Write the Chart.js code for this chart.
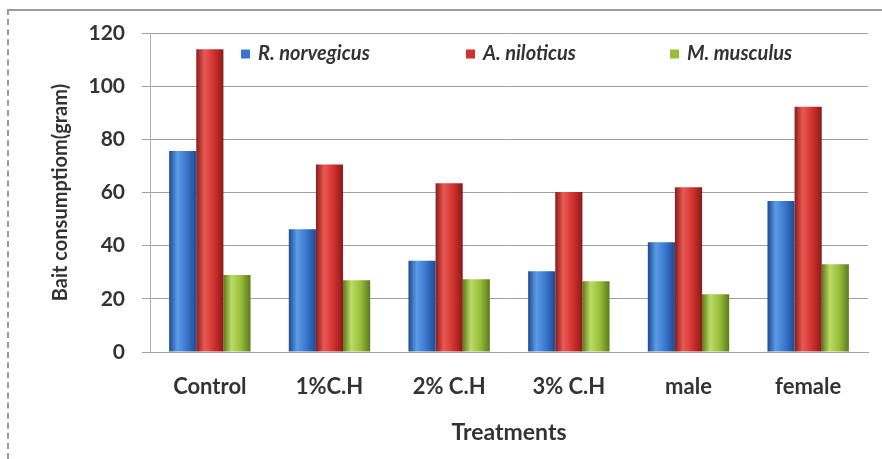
<!DOCTYPE html>
<html>
<head>
<meta charset="utf-8">
<script src="https://cdn.jsdelivr.net/npm/chart.js@4.4.1/dist/chart.umd.min.js"></script>
<style>
  html, body { margin: 0; padding: 0; background: #fff; }
  #wrap { position: relative; width: 882px; height: 459px; }
  #frame { position: absolute; left: 7px; top: 9px; right: 0; bottom: 0;
           border-top: 2px solid #9c9c9c; border-left: 2px dashed #9a9a9a; pointer-events: none; }
  canvas { position: absolute; left: 0; top: 0; }
</style>
</head>
<body>
<div id="wrap">
  <canvas id="chart" width="882" height="459"></canvas>
  <div id="frame"></div>
</div>
<script>
// Dados
const categories   = ['Control', '1%C.H', '2% C.H', '3% C.H', 'male', 'female'];
const seriesNames  = ['R. norvegicus', 'A. niloticus', 'M. musculus'];
const rNorvegicus  = [75.6, 46.2, 34.3, 30.4, 41.3, 56.8];
const aNiloticus   = [113.9, 70.5, 63.5, 60.2, 62.0, 92.3];
const mMusculus    = [29.0, 27.0, 27.4, 26.6, 21.7, 33.0];
const yMin = 0, yMax = 120, yStep = 20;

const CAT_PCT = 0.68;
const FONT = 'Lato, "Open Sans", sans-serif';

// sombreamento cilíndrico de cada barra
function shade(dark, light, mid) {
  return (c) => {
    const chart = c.chart, area = chart.chartArea;
    if (!area || !chart.scales.x) return mid;
    const catW = (area.right - area.left) / categories.length;
    const barW = catW * CAT_PCT / seriesNames.length;
    const cx = chart.scales.x.getPixelForValue(c.dataIndex) + (c.datasetIndex - 1) * barW;
    const g = chart.ctx.createLinearGradient(cx - barW / 2, 0, cx + barW / 2, 0);
    g.addColorStop(0, dark);
    g.addColorStop(0.3, light);
    g.addColorStop(0.65, mid);
    g.addColorStop(1, dark);
    return g;
  };
}

const legendColors = ['#3a76cc', '#d2312e', '#98bd3a'];

// legenda desenhada dentro da área do gráfico
const insideLegend = {
  id: 'insideLegend',
  afterDraw(chart) {
    const { ctx, chartArea } = chart;
    const starts = [91, 316, 520];
    ctx.save();
    ctx.font = 'italic bold 20px ' + FONT;
    ctx.textBaseline = 'middle';
    seriesNames.forEach((name, i) => {
      const x = chartArea.left + starts[i];
      const y = chartArea.top + 21;
      ctx.fillStyle = legendColors[i];
      ctx.fillRect(x, y - 4.5, 9, 9);
      ctx.fillStyle = '#333';
      ctx.fillText(name, x + 17, y);
    });
    ctx.restore();
  }
};

const ds = (label, data, dark, light, mid) => ({
  label, data,
  backgroundColor: shade(dark, light, mid),
  borderWidth: 0,
  categoryPercentage: CAT_PCT,
  barPercentage: 1.0
});

new Chart(document.getElementById('chart'), {
  type: 'bar',
  data: {
    labels: categories,
    datasets: [
      ds(seriesNames[0], rNorvegicus, '#1d4a92', '#5c9be6', '#3a76cc'),
      ds(seriesNames[1], aNiloticus,  '#8a1a18', '#e85a55', '#d2312e'),
      ds(seriesNames[2], mMusculus,   '#5a7a1a', '#bcdb66', '#98bd3a')
    ]
  },
  options: {
    responsive: false,
    devicePixelRatio: 1,
    animation: false,
    layout: { padding: { top: 33, right: 14, left: 0, bottom: 0 } },
    plugins: { legend: { display: false }, tooltip: { enabled: false } },
    scales: {
      x: {
        grid: { display: false, drawTicks: false },
        border: { display: true, color: '#a0a0a0', width: 1 },
        ticks: { color: '#333', font: { family: FONT, size: 22, weight: 'bold' }, padding: 22, maxRotation: 0 },
        title: { display: true, text: 'Treatments', color: '#333',
                 font: { family: FONT, size: 23, weight: 'bold' }, padding: { bottom: 13 } },
        afterFit: (s) => { s.height = 459 - 352; }
      },
      y: {
        min: yMin, max: yMax,
        grid: { color: '#a0a0a0', lineWidth: 1, tickLength: 8 },
        border: { display: true, color: '#b0b0b0', width: 1 },
        ticks: { stepSize: yStep, color: '#333', font: { family: FONT, size: 21, weight: 'bold' }, padding: 17 },
        title: { display: true, text: 'Bait consumptiom(gram)', color: '#333',
                 font: { family: FONT, size: 20, weight: 'bold' }, padding: { top: 49 } },
        afterFit: (s) => { s.width = 150; }
      }
    }
  },
  plugins: [insideLegend]
});
</script>
</body>
</html>
